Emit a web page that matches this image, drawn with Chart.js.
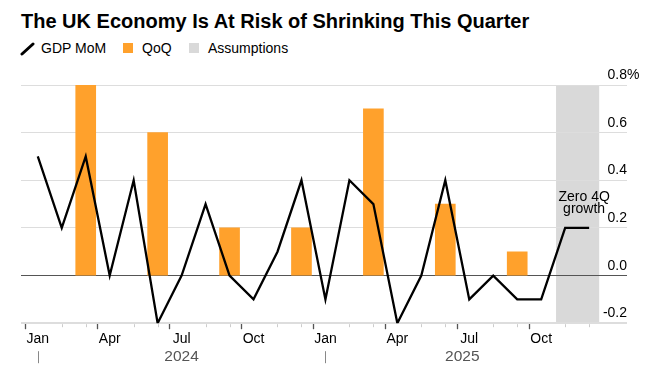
<!DOCTYPE html>
<html>
<head>
<meta charset="utf-8">
<script src="https://cdn.jsdelivr.net/npm/chart.js@4.4.1/dist/chart.umd.min.js"></script>
<style>
  html, body { margin: 0; padding: 0; background: #fff; }
  #wrap { position: relative; width: 672px; height: 381px; overflow: hidden;
          font-family: "Liberation Sans", Arial, sans-serif; color: #000; }
  #title { position: absolute; left: 21px; top: 11px; font-size: 20px; line-height: 20px;
           font-weight: bold; white-space: nowrap; }
  .lg { position: absolute; top: 40px; font-size: 14px; line-height: 16px; white-space: nowrap; }
  .sw { position: absolute; top: 43px; width: 10px; height: 10px; }
  #slash { position: absolute; left: 20px; top: 42px; }
  canvas { position: absolute; left: 0; top: 0; }
</style>
</head>
<body>
<div id="wrap">
  <div id="title">The UK Economy Is At Risk of Shrinking This Quarter</div>
  <svg id="slash" width="16" height="14"><line x1="2" y1="12" x2="13" y2="2" stroke="#000" stroke-width="3" stroke-linecap="round"/></svg>
  <span class="lg" style="left:41px">GDP MoM</span>
  <div class="sw" style="left:123px;background:#FFA12C"></div>
  <span class="lg" style="left:142px">QoQ</span>
  <div class="sw" style="left:189px;background:#d9d9d9"></div>
  <span class="lg" style="left:208px">Assumptions</span>
  <canvas id="c" width="672" height="381"></canvas>
</div>
<script>
// ---- data ----
const months = ['Jan','Feb','Mar','Apr','May','Jun','Jul','Aug','Sep','Oct','Nov','Dec',
                'Jan','Feb','Mar','Apr','May','Jun','Jul','Aug','Sep','Oct','Nov','Dec'];
const xTickLabels = ['Jan','','','Apr','','','Jul','','','Oct','','',
                     'Jan','','','Apr','','','Jul','','','Oct','',''];
const gdpMoM = [0.5, 0.2, 0.5, 0.0, 0.4, -0.2, 0.0, 0.3, 0.0, -0.1, 0.1, 0.4,
                -0.1, 0.4, 0.3, -0.2, 0.0, 0.4, -0.1, 0.0, -0.1, -0.1, 0.2, 0.2];
const qoq = [null, null, 0.8, null, null, 0.6, null, null, 0.2, null, null, 0.2,
             null, null, 0.7, null, null, 0.3, null, null, 0.1, null, null, null];
const years = ['2024', '2025'];
const yearStartIndex = [0, 12];
const yTickValues = [-0.2, 0, 0.2, 0.4, 0.6, 0.8];
const yTickLabels = ['-0.2', '0.0', '0.2', '0.4', '0.6', '0.8%'];
const assumptionRange = [21.62, 23.42];   // month-index span of the shaded "Assumptions" block
const annotationText = ['Zero 4Q', 'growth'];

const FONT = '"Liberation Sans", Arial, sans-serif';

const overlay = {
  id: 'overlay',
  beforeDraw(chart) {
    const { ctx, chartArea: ca, scales: { x } } = chart;
    const x0 = x.getPixelForValue(assumptionRange[0]);
    const x1 = x.getPixelForValue(assumptionRange[1]);
    ctx.save();
    ctx.fillStyle = '#d9d9d9';
    ctx.fillRect(x0, ca.top, x1 - x0, ca.bottom - ca.top);
    ctx.restore();
  },
  afterDraw(chart) {
    const { ctx, chartArea: ca, scales: { x, y } } = chart;
    ctx.save();
    // minor ticks
    ctx.strokeStyle = '#cccccc';
    ctx.lineWidth = 1;
    months.forEach((m, i) => {
      if (xTickLabels[i] !== '') return;
      const px = Math.round(x.getPixelForValue(i)) + 0.5;
      ctx.beginPath();
      ctx.moveTo(px, ca.bottom + 1);
      ctx.lineTo(px, ca.bottom + 4);
      ctx.stroke();
    });
    // year labels and separators
    const domainEnd = assumptionRange[1];
    ctx.font = '15.5px ' + FONT;
    ctx.fillStyle = '#555';
    ctx.textAlign = 'center';
    ctx.textBaseline = 'middle';
    years.forEach((yr, k) => {
      const s = yearStartIndex[k];
      const e = Math.min(s + 12, domainEnd);
      const cx = (x.getPixelForValue(s) + x.getPixelForValue(e)) / 2;
      ctx.fillText(yr, cx, ca.bottom + 34);
      const sx = Math.round(x.getPixelForValue(s)) + 0.5;
      ctx.strokeStyle = '#888';
      ctx.beginPath();
      ctx.moveTo(sx, ca.bottom + 28);
      ctx.lineTo(sx, ca.bottom + 40);
      ctx.stroke();
    });
    // y labels (right side, above gridlines)
    ctx.font = '14px ' + FONT;
    ctx.fillStyle = '#000';
    ctx.textBaseline = 'alphabetic';
    yTickValues.forEach((v, i) => {
      const py = y.getPixelForValue(v) - 6;
      let lab = yTickLabels[i];
      let suffix = '';
      if (lab.endsWith('%')) { suffix = '%'; lab = lab.slice(0, -1); }
      ctx.textAlign = 'right';
      ctx.fillText(lab, ca.right, py);
      if (suffix) { ctx.textAlign = 'left'; ctx.fillText(suffix, ca.right, py); }
    });
    // annotation
    const last = gdpMoM.length - 1;
    const ax = x.getPixelForValue(last) - 5;
    const ay = y.getPixelForValue(gdpMoM[last]);
    ctx.textAlign = 'center';
    ctx.fillText(annotationText[0], ax, ay - 27);
    ctx.fillText(annotationText[1], ax, ay - 14.5);
    ctx.restore();
  }
};

new Chart(document.getElementById('c'), {
  type: 'bar',
  data: {
    datasets: [
      {
        type: 'line', label: 'GDP MoM',
        data: gdpMoM.map((v, i) => ({ x: i, y: v })),
        borderColor: '#000', borderWidth: 2.3, pointRadius: 0, tension: 0,
        fill: false, order: 0, borderJoinStyle: 'miter'
      },
      {
        type: 'bar', label: 'QoQ',
        data: qoq.map((v, i) => ({ x: i, y: v })).filter(d => d.y !== null),
        backgroundColor: '#FFA12C', borderWidth: 0, barThickness: 20, order: 1
      }
    ]
  },
  options: {
    responsive: false, animation: false, devicePixelRatio: 1,
    layout: { padding: { left: 21, right: 45, top: 85, bottom: 31 } },
    plugins: { legend: { display: false }, tooltip: { enabled: false } },
    scales: {
      x: {
        type: 'linear', min: -0.7, max: 24.58, offset: false,
        afterBuildTicks: s => { s.ticks = months.map((_, i) => ({ value: i })); },
        ticks: {
          autoSkip: false, maxRotation: 0, minRotation: 0, padding: 2, color: '#000',
          font: { size: 14, family: FONT },
          callback: (v, i) => xTickLabels[i]
        },
        grid: {
          drawOnChartArea: false, drawTicks: true, tickLength: 6, tickWidth: 1.3,
          tickColor: c => (xTickLabels[c.index] ? '#555' : 'rgba(0,0,0,0)')
        },
        border: { display: false }
      },
      y: {
        type: 'linear', position: 'right', min: -0.2, max: 0.8,
        afterBuildTicks: s => { s.ticks = yTickValues.map(v => ({ value: v })); },
        ticks: { display: false },
        grid: {
          drawTicks: false,
          color: c => (Math.abs(c.tick.value) < 1e-9 ? '#555' : '#dddddd'),
          lineWidth: c => (c.tick.value < -0.19 ? 2 : 1)
        },
        border: { display: false }
      }
    }
  },
  plugins: [overlay]
});
</script>
</body>
</html>
